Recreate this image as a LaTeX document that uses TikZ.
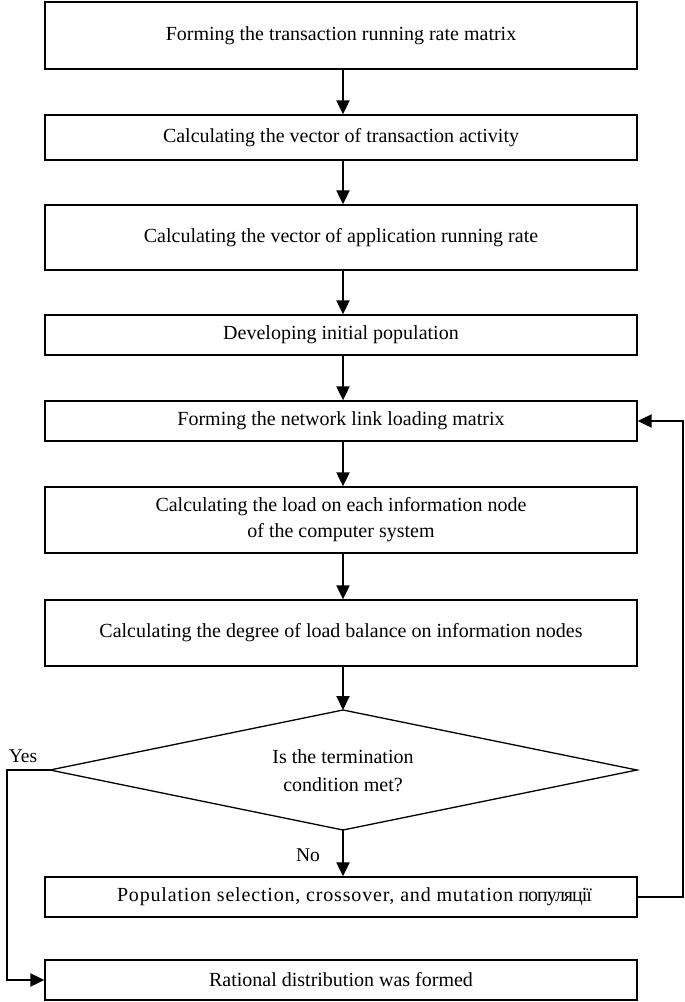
\documentclass[tikz,border=0pt]{standalone}
\usepackage{fontspec}
\setmainfont{Liberation Serif}
\newfontfamily\spacedfont[LetterSpace=4.1]{Liberation Serif}
\newfontfamily\tightfont[LetterSpace=-5]{Liberation Serif}
\usetikzlibrary{arrows.meta,shapes.geometric}
\begin{document}
\begin{tikzpicture}[x=1pt,y=-1pt,
  box/.style={draw,line width=1.3pt,minimum width=592pt,inner sep=0pt,align=center,font=\fontsize{20}{26}\selectfont},
  arr/.style={line width=2pt,-{Triangle[length=14pt,width=13pt]}},
  lbl/.style={font=\fontsize{19.5}{20}\selectfont}]
\useasboundingbox (0,0) rectangle (685,1002);
\node[box,minimum height=67pt] (b1) at (341,35.5) {Forming the transaction running rate matrix};
\node[box,minimum height=45pt] (b2) at (341,137.5) {Calculating the vector of transaction activity};
\node[box,minimum height=65pt] (b3) at (341,237.5) {Calculating the vector of application running rate};
\node[box,minimum height=40pt] (b4) at (341,335) {Developing initial population};
\node[box,minimum height=40pt] (b5) at (341,421) {Forming the network link loading matrix};
\node[box,minimum height=66pt] (b6) at (341,520) {Calculating the load on each information node\\of the computer system};
\node[box,minimum height=66pt] (b7) at (341,633) {Calculating the degree of load balance on information nodes};
\draw[line width=1.3pt] (343,710) -- (637,770) -- (343,830) -- (50,770) -- cycle;
\coordinate (dt) at (343,710);
\coordinate (db) at (343,830);
\coordinate (dl) at (50,770);
\node[align=center,font=\fontsize{20}{28}\selectfont] (dtext) at (343,771) {Is the termination\\condition met?};
\node[box,minimum height=40pt] (b8) at (341,897) {\hspace*{27pt}{\spacedfont Population selection, crossover, and mutation} {\tightfont популяції}};
\node[box,minimum height=40pt] (b9) at (341,980) {Rational distribution was formed};
\draw[arr] (b1.south -| 343,0) -- (b2.north -| 343,0);
\draw[arr] (b2.south -| 343,0) -- (b3.north -| 343,0);
\draw[arr] (b3.south -| 343,0) -- (b4.north -| 343,0);
\draw[arr] (b4.south -| 343,0) -- (b5.north -| 343,0);
\draw[arr] (b5.south -| 343,0) -- (b6.north -| 343,0);
\draw[arr] (b6.south -| 343,0) -- (b7.north -| 343,0);
\draw[arr] (b7.south -| 343,0) -- (dt);
\draw[arr] (db) -- (b8.north -| 343,0);
\coordinate (fr) at (683,897);
\coordinate (fu) at (683,421);
\draw[arr] (b8.east) -- (fr) -- (fu) -- (b5.east);
\coordinate (yl) at (7,770);
\coordinate (yd) at (7,980);
\draw[arr] (dl) -- (yl) -- (yd) -- (b9.west);
\node[lbl] (yes) at (23,756) {Yes};
\node[lbl] (no) at (308,855) {No};
\end{tikzpicture}
\end{document}
